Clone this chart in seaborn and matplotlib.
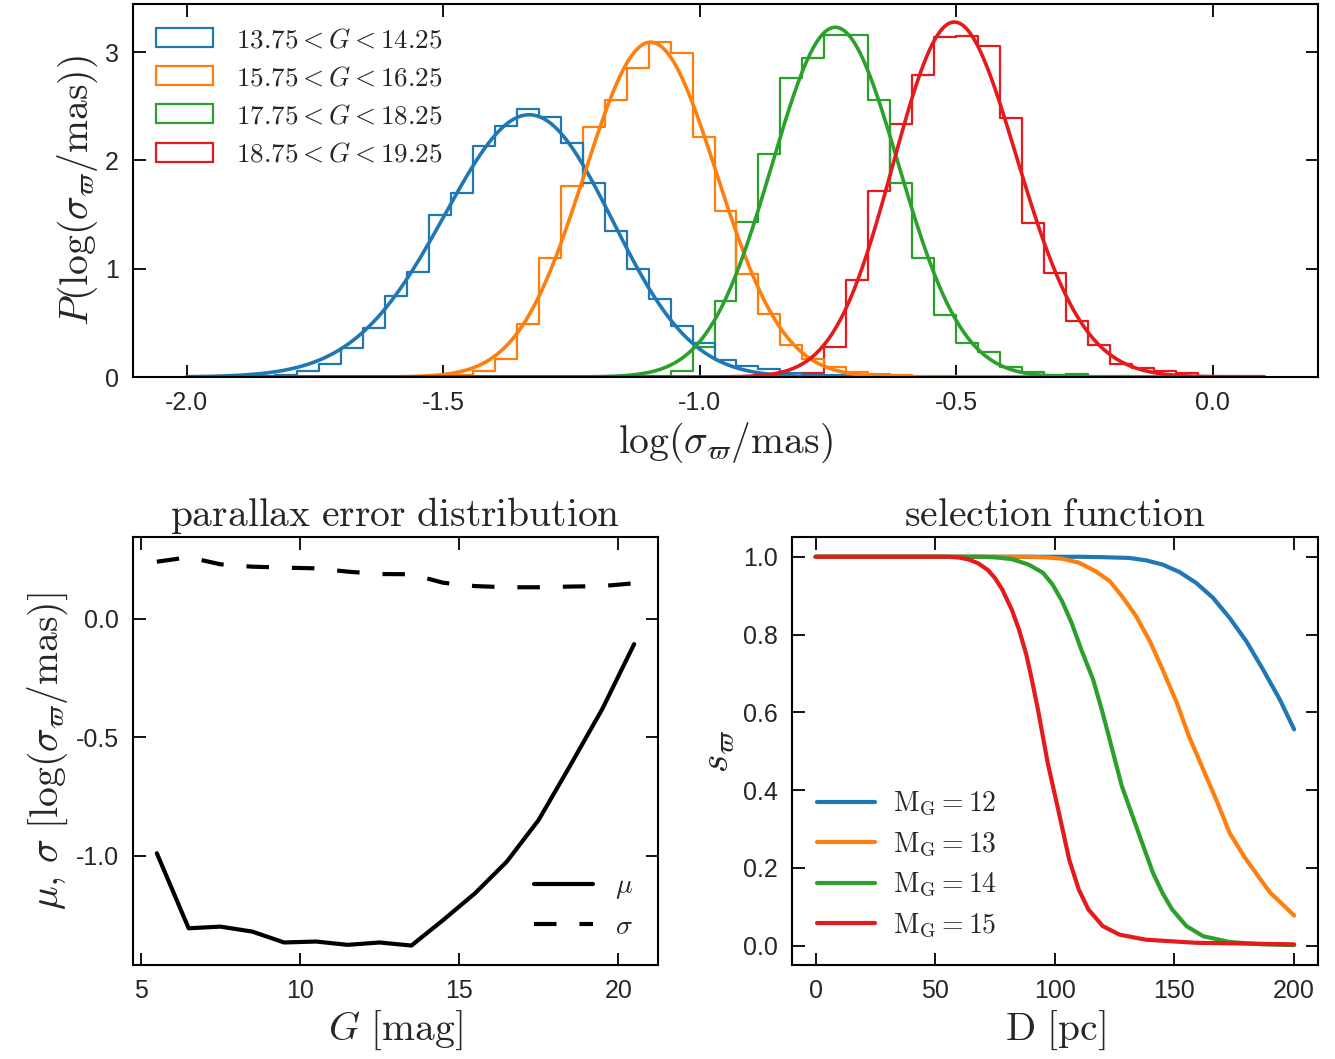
import math
import numpy as np
import pandas as pd
import matplotlib
matplotlib.use("Agg")
import matplotlib.pyplot as plt
from matplotlib.patches import Patch
import seaborn as sns

# --- top panel: log parallax error distribution in four G bins ---
g_bins = ['$13.75 < G < 14.25$', '$15.75 < G < 16.25$',
          '$17.75 < G < 18.25$', '$18.75 < G < 19.25$']
colors = ['#1f77b4', '#ff7f0e', '#2ca02c', '#e41a1c']
bin_edges = list(np.linspace(-2.0, 0.1, 50))

hist_blue = [0, 0, 0.005, 0.01, 0.02, 0.06, 0.12, 0.27, 0.45, 0.75, 0.97, 1.50, 1.70,
             2.13, 2.32, 2.48, 2.40, 2.16, 1.79, 1.35, 1.00, 0.72, 0.47, 0.31, 0.16,
             0.10, 0.07, 0.04, 0.02, 0.015, 0.01, 0.005,
             0, 0, 0, 0, 0, 0, 0, 0, 0, 0, 0, 0, 0, 0, 0, 0, 0]
hist_orange = [0, 0, 0, 0, 0, 0, 0, 0, 0, 0, 0, 0,
               0.02, 0.06, 0.17, 0.49, 1.10, 1.76, 2.31, 2.56, 2.85, 3.09, 2.99, 2.22,
               1.53, 0.95, 0.58, 0.30, 0.17, 0.09, 0.05, 0.03, 0.02, 0.01, 0.005,
               0, 0, 0, 0, 0, 0, 0, 0, 0, 0, 0, 0, 0, 0]
hist_green = [0, 0, 0, 0, 0, 0, 0, 0, 0, 0, 0, 0, 0, 0, 0, 0, 0, 0, 0, 0, 0,
              0.01, 0.055, 0.28, 0.70, 1.43, 2.06, 2.76, 2.95, 3.16, 3.16, 2.56, 1.79,
              1.10, 0.57, 0.31, 0.23, 0.09, 0.05, 0.02, 0.03, 0.01, 0.005,
              0, 0, 0, 0, 0, 0]
hist_red = [0, 0, 0, 0, 0, 0, 0, 0, 0, 0, 0, 0, 0, 0, 0, 0, 0, 0, 0, 0, 0, 0, 0, 0,
            0, 0, 0,
            0.01, 0.04, 0.28, 0.90, 1.72, 2.34, 2.79, 3.14, 3.15, 3.06, 2.39, 1.42,
            0.96, 0.52, 0.30, 0.12, 0.08, 0.06, 0.04, 0.01, 0.01, 0.005]

# skew-normal fits to each histogram (location, scale, shape)
fit_loc = [-1.231, -1.096, -0.736, -0.579]
fit_scale = [0.201, 0.129, 0.1235, 0.1485]
fit_shape = [-1.0, 0.0, 0.0, 1.0]

# --- bottom left: parallax error distribution parameters vs G ---
G_mag = [5.5, 6.5, 7.5, 8.5, 9.5, 10.5, 11.5, 12.5, 13.5, 14.5, 15.5, 16.5, 17.5,
         18.5, 19.5, 20.5]
mu_vals = [-0.99, -1.307, -1.30, -1.321, -1.367, -1.363, -1.377, -1.367, -1.38,
           -1.272, -1.159, -1.025, -0.849, -0.617, -0.38, -0.106]
sigma_vals = [0.242, 0.261, 0.231, 0.221, 0.217, 0.214, 0.200, 0.190, 0.189, 0.153,
              0.139, 0.134, 0.134, 0.137, 0.139, 0.151]

# --- bottom right: selection function vs distance ---
mg_labels = [r'$\mathrm{M_G} = 12$', r'$\mathrm{M_G} = 13$',
             r'$\mathrm{M_G} = 14$', r'$\mathrm{M_G} = 15$']
D_12 = [0, 110, 120, 131, 138, 145, 152, 159, 166, 173, 180, 187, 194, 200]
s_12 = [1.0, 1.0, 0.999, 0.997, 0.991, 0.980, 0.961, 0.933, 0.895, 0.843, 0.783,
        0.710, 0.633, 0.556]
D_13 = [0, 90, 97, 103, 110, 117, 123, 128, 134, 140, 145, 151, 156, 162, 168, 173,
        179, 185, 190, 196, 200]
s_13 = [1.0, 1.0, 0.998, 0.995, 0.985, 0.963, 0.937, 0.899, 0.847, 0.779, 0.710,
        0.624, 0.539, 0.453, 0.367, 0.290, 0.230, 0.178, 0.136, 0.101, 0.077]
D_14 = [0, 70, 76, 82, 89, 95, 99, 103, 107, 111, 116, 120, 124, 128, 133, 137, 141,
        145, 149, 155, 162, 173, 187, 200]
s_14 = [1.0, 1.0, 0.998, 0.994, 0.980, 0.959, 0.929, 0.886, 0.830, 0.762, 0.684,
        0.598, 0.504, 0.410, 0.324, 0.255, 0.187, 0.135, 0.093, 0.050, 0.024, 0.009,
        0.003, 0.001]
D_15 = [0, 55, 60, 64, 68, 72, 75, 78, 82, 85, 88, 90, 93, 97, 102, 106, 110, 114,
        120, 127, 138, 159, 200]
s_15 = [1.0, 1.0, 0.998, 0.993, 0.983, 0.966, 0.945, 0.916, 0.864, 0.813, 0.750,
        0.695, 0.605, 0.470, 0.333, 0.221, 0.144, 0.093, 0.050, 0.028, 0.015, 0.007,
        0.003]

# build tables
centers = 0.5 * (np.array(bin_edges[:-1]) + np.array(bin_edges[1:]))
hist_df = pd.concat([pd.DataFrame({'x': centers, 'h': h, 'bin': lab})
                     for h, lab in zip([hist_blue, hist_orange, hist_green, hist_red], g_bins)],
                    ignore_index=True)

erf = np.vectorize(math.erf)


def skewnorm_pdf(x, loc, scale, shape):
    z = (x - loc) / scale
    phi = np.exp(-0.5 * z ** 2) / np.sqrt(2 * np.pi)
    Phi = 0.5 * (1 + erf(shape * z / np.sqrt(2)))
    return 2 * phi * Phi / scale


xs = np.linspace(-2.0, 0.1, 500)
fit_df = pd.concat([pd.DataFrame({'x': xs, 'p': skewnorm_pdf(xs, l, s, a), 'bin': lab})
                    for l, s, a, lab in zip(fit_loc, fit_scale, fit_shape, g_bins)],
                   ignore_index=True)

sel_df = pd.concat([pd.DataFrame({'D': d, 's': s, 'MG': lab})
                    for d, s, lab in zip([D_12, D_13, D_14, D_15],
                                         [s_12, s_13, s_14, s_15], mg_labels)],
                   ignore_index=True)

# --- style ---
sns.set_theme(style='ticks')
plt.rcParams['font.family'] = ['Liberation Sans Narrow', 'Liberation Sans', 'DejaVu Sans']
plt.rcParams['mathtext.fontset'] = 'cm'
plt.rcParams['axes.unicode_minus'] = False

lab_fs = 28.5
tick_fs = 18
leg_fs = 20

fig = plt.figure(figsize=(13.35, 10.59), dpi=100)
ax_top = fig.add_axes([0.0996, 0.644, 0.8877, 0.3522])
ax_bl = fig.add_axes([0.0996, 0.0888, 0.3933, 0.4038])
ax_br = fig.add_axes([0.593, 0.0888, 0.3943, 0.4038])


def style_axes(ax):
    ax.tick_params(direction='in', top=True, right=True, length=9, width=1.3,
                   labelsize=tick_fs, pad=10, color='black')
    for sp in ax.spines.values():
        sp.set_linewidth(1.5)
        sp.set_color('black')


# top panel
pal = dict(zip(g_bins, colors))
sns.histplot(data=hist_df, x='x', weights='h', hue='bin', bins=bin_edges,
             element='step', fill=False, palette=pal, linewidth=1.6,
             legend=False, ax=ax_top)
sns.lineplot(data=fit_df, x='x', y='p', hue='bin', palette=pal, linewidth=2.6,
             legend=False, ax=ax_top)
ax_top.set_xlim(-2.105, 0.205)
ax_top.set_ylim(0, 3.445)
ax_top.set_xticks([-2.0, -1.5, -1.0, -0.5, 0.0])
ax_top.set_yticks([0, 1, 2, 3])
ax_top.set_xlabel(r'$\log(\sigma_\varpi/\mathrm{mas})$', fontsize=lab_fs)
ax_top.set_ylabel(r'$P(\log(\sigma_\varpi/\mathrm{mas}))$', fontsize=lab_fs)
handles = [Patch(facecolor='none', edgecolor=c, linewidth=1.6) for c in colors]
ax_top.legend(handles, g_bins, loc='upper left', frameon=False, fontsize=19.5,
              handlelength=2.1, handleheight=0.7, handletextpad=0.85, labelspacing=0.45,
              borderaxespad=0.45)
style_axes(ax_top)

# bottom left panel
sns.lineplot(x=G_mag, y=mu_vals, color='black', linewidth=3, label=r'$\mu$', ax=ax_bl)
sns.lineplot(x=G_mag, y=sigma_vals, color='black', linewidth=3,
             linestyle=(0, (5.4, 5.5)), label=r'$\sigma$', ax=ax_bl)
ax_bl.set_xlim(4.75, 21.25)
ax_bl.set_ylim(-1.462, 0.345)
ax_bl.set_xticks([5, 10, 15, 20])
ax_bl.set_yticks([-1.0, -0.5, 0.0])
ax_bl.set_title(r'$\mathrm{parallax\ error\ distribution}$', fontsize=lab_fs, pad=8)
ax_bl.set_xlabel(r'$G\ [\mathrm{mag}]$', fontsize=lab_fs)
ax_bl.set_ylabel(r'$\mu,\,\sigma\ [\log(\sigma_\varpi/\mathrm{mas})]$', fontsize=lab_fs)
ax_bl.legend(loc='lower right', frameon=False, fontsize=leg_fs, handlelength=2.1,
             handletextpad=0.8, labelspacing=0.45)
style_axes(ax_bl)

# bottom right panel
sns.lineplot(data=sel_df, x='D', y='s', hue='MG', palette=dict(zip(mg_labels, colors)),
             linewidth=3, estimator=None, sort=False, ax=ax_br)
ax_br.set_xlim(-10, 210)
ax_br.set_ylim(-0.05, 1.05)
ax_br.set_xticks([0, 50, 100, 150, 200])
ax_br.set_yticks([0.0, 0.2, 0.4, 0.6, 0.8, 1.0])
ax_br.set_title(r'$\mathrm{selection\ function}$', fontsize=lab_fs, pad=8)
ax_br.set_xlabel(r'$\mathrm{D\ [pc]}$', fontsize=lab_fs)
ax_br.set_ylabel(r'$s_\varpi$', fontsize=lab_fs)
ax_br.legend(title=None, loc='lower left', frameon=False, fontsize=leg_fs,
             handlelength=2.1, handletextpad=0.65, labelspacing=0.45)
style_axes(ax_br)

fig.savefig('out.png', dpi=100)
